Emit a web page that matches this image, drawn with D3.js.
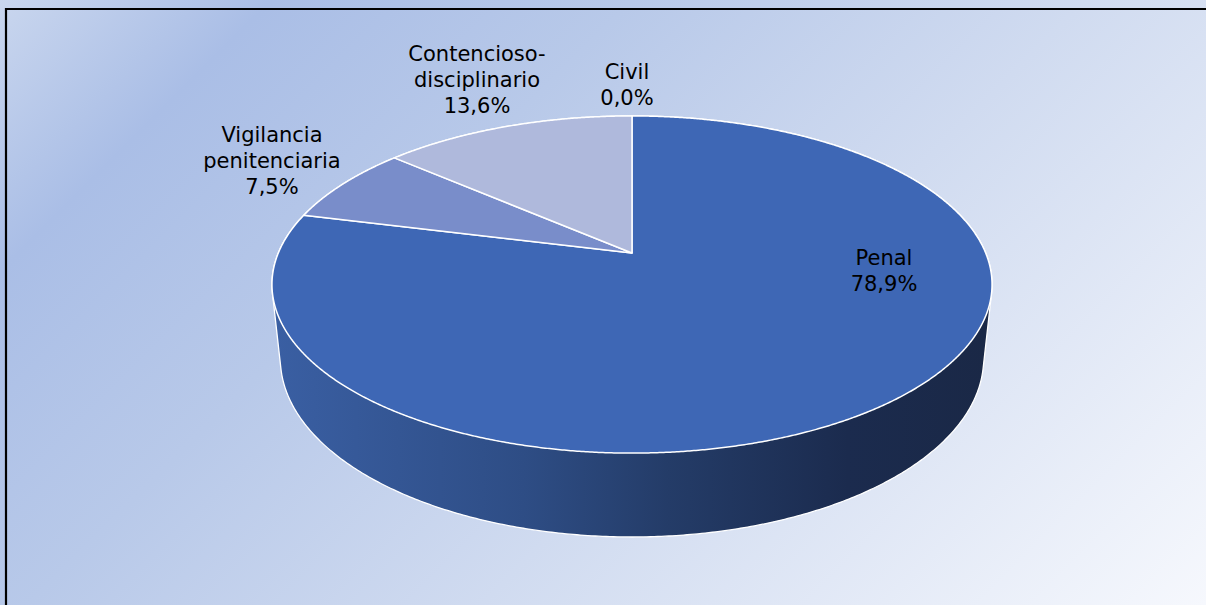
<!DOCTYPE html>
<html>
<head>
<meta charset="utf-8">
<script src="https://cdn.jsdelivr.net/npm/d3@7"></script>
<style>
  html, body { margin: 0; padding: 0; }
  svg { display: block; }
</style>
</head>
<body>
<div id="chart"></div>
<script>
const width = 1206;
const height = 605;

// datos
const categories = ["Penal", "Vigilancia penitenciaria", "Contencioso-disciplinario", "Civil"];
const values = [78.9, 7.5, 13.6, 0.0];
const labelLines = [["Penal"], ["Vigilancia", "penitenciaria"], ["Contencioso-", "disciplinario"], ["Civil"]];
const sliceColors = ["#3e67b5", "#798dca", "#afb9dc", "#c9cfe6"];

// posicion de las etiquetas (centro x, primera linea base) relativa al centro del pastel
const labelOffsets = [[252, 12], [-360, -111], [-155, -192], [-5, -174]];

// proyeccion en perspectiva del disco
const cx = 632, cy = 253;
const sinA = 0.46, cosA = Math.sqrt(1 - sinA * sinA);
const D = 4.75, f = 1680, thick = 0.238;

function proj(phi, r, Y) {
  const u = r * Math.sin(phi), v = -r * Math.cos(phi);
  const yc = Y * cosA - v * sinA;
  const d = D - (Y * sinA + v * cosA);
  return [cx + f * u / d, cy - f * yc / d];
}

const svg = d3.select("#chart").append("svg")
  .attr("width", width)
  .attr("height", height);

const defs = svg.append("defs");

// fondo degradado
const bg = defs.append("linearGradient").attr("id", "bg")
  .attr("gradientUnits", "userSpaceOnUse")
  .attr("x1", 0).attr("y1", 0).attr("x2", 905).attr("y2", 905);
[[0, "#c9d6ee"], [0.15, "#aabee6"], [0.35, "#b8c9e9"], [0.6, "#d0dbf0"], [1, "#f6f8fd"]]
  .forEach(s => bg.append("stop").attr("offset", s[0]).attr("stop-color", s[1]));

const wallGrad = defs.append("linearGradient").attr("id", "wall")
  .attr("gradientUnits", "userSpaceOnUse")
  .attr("x1", 272).attr("y1", 0).attr("x2", 992).attr("y2", 0);
[[0, "#3a5fa3"], [0.35, "#2e4d85"], [0.55, "#243c68"], [0.8, "#1b2b4e"], [1, "#1a2846"]]
  .forEach(s => wallGrad.append("stop").attr("offset", s[0]).attr("stop-color", s[1]));

svg.append("rect").attr("width", width).attr("height", height).attr("fill", "url(#bg)");

// borde superior e izquierdo
svg.append("path")
  .attr("d", `M6,${height} V9 H${width}`)
  .attr("fill", "none")
  .attr("stroke", "#000")
  .attr("stroke-width", 2.2);

const pie = d3.pie().sort(null).value(d => d);
const arcs = pie(values);

// pared lateral: envolvente de la cara superior e inferior
const ring = [];
for (let i = 0; i < 720; i++) {
  const a = i / 720 * 2 * Math.PI;
  ring.push(proj(a, 1, 0));
  ring.push(proj(a, 1, -thick));
}
const hull = d3.polygonHull(ring);
svg.append("path")
  .attr("d", d3.line()(hull) + "Z")
  .attr("fill", "url(#wall)")
  .attr("stroke", "#ffffff")
  .attr("stroke-width", 1.3);

// cara superior
const topLine = d3.line();
svg.append("g").selectAll("path")
  .data(arcs.filter(d => d.endAngle - d.startAngle > 0))
  .join("path")
  .attr("d", d => {
    const pts = [proj(0, 0, 0)];
    const n = Math.max(2, Math.ceil((d.endAngle - d.startAngle) / 0.005));
    for (let i = 0; i <= n; i++) {
      pts.push(proj(d.startAngle + (d.endAngle - d.startAngle) * i / n, 1, 0));
    }
    return topLine(pts) + "Z";
  })
  .attr("fill", d => sliceColors[d.index])
  .attr("stroke", "#ffffff")
  .attr("stroke-width", 1.5)
  .attr("stroke-linejoin", "round");

// etiquetas
const fmt = v => d3.format(".1f")(v).replace(".", ",") + "%";
const lineH = 26;
const labels = svg.append("g")
  .attr("font-family", "'DejaVu Sans', Verdana, sans-serif")
  .attr("font-size", 21)
  .attr("fill", "#000")
  .attr("text-anchor", "middle");

categories.forEach((c, i) => {
  const lines = labelLines[i].concat([fmt(values[i])]);
  const t = labels.append("text")
    .attr("x", cx + labelOffsets[i][0])
    .attr("y", cy + labelOffsets[i][1]);
  lines.forEach((l, j) => {
    t.append("tspan")
      .attr("x", cx + labelOffsets[i][0])
      .attr("dy", j === 0 ? 0 : lineH)
      .text(l);
  });
});
</script>
</body>
</html>
